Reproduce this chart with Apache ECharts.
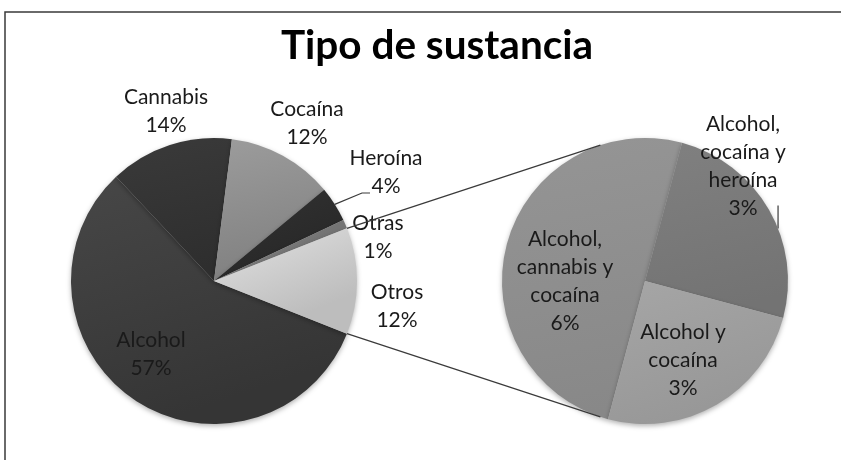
<!DOCTYPE html>
<html>
<head>
<meta charset="utf-8">
<script src="https://cdn.jsdelivr.net/npm/echarts@6/dist/echarts.min.js"></script>
<style>
  html, body { margin: 0; padding: 0; background: #ffffff; }
  #chart { width: 841px; height: 460px; }
</style>
</head>
<body>
<div id="chart"></div>
<script>
// ---- data ----
const chartTitle = 'Tipo de sustancia';

// main breakdown by substance (percent of cases)
const mainNames = ['Alcohol', 'Cannabis', 'Cocaína', 'Heroína', 'Otras'];
const mainValues = [57, 14, 12, 4, 1];

// combinations, grouped as "Otros" in the main pie and detailed in the side pie
const groupName = 'Otros';
const comboNames = ['Alcohol,\ncannabis y\ncocaína', 'Alcohol,\ncocaína y\nheroína', 'Alcohol y\ncocaína'];
const comboValues = [6, 3, 3];

// ---- styles & layout ----
const FONT = 'Lato';
const TEXT = '#1a1a1a';
const mainPie = { cx: 214, cy: 281, r: 143 };
const sidePie = { cx: 645, cy: 281, r: 143 };
const sideStartAngle = 255;

function grad(top, bottom) {
  return { type: 'linear', x: 0, y: 0, x2: 0.3, y2: 1,
    colorStops: [{ offset: 0, color: top }, { offset: 1, color: bottom }] };
}
const mainColors = [
  grad('#474747', '#353535'),   // Alcohol
  grad('#3a3a3a', '#2e2e2e'),   // Cannabis
  grad('#9c9c9c', '#808080'),   // Cocaína
  grad('#333333', '#282828'),   // Heroína
  grad('#8a8a8a', '#747474'),   // Otras
  grad('#e2e2e2', '#bdbdbd')    // Otros
];
const comboColors = [
  grad('#959595', '#888888'),
  grad('#808080', '#737373'),
  grad('#a6a6a6', '#989898')
];

// label anchors, relative to each pie's centre
const mainLabelOffsets = [[-63, 73], [-48, -170], [93, -158], [172, -109], [164, -44], [183, 25]];
const comboLabelOffsets = [[-80, 0], [98, -115], [38, 79]];

// ---- derived ----
const sum = a => a.reduce((s, v) => s + v, 0);
const groupValue = sum(comboValues);
const mainTotal = sum(mainValues) + groupValue;
// the grouped slice is centred on the 3 o'clock direction
const mainStartAngle = -(groupValue / mainTotal) * 180;

const mainData = mainNames.map((n, i) => ({
  name: n, value: mainValues[i], itemStyle: { color: mainColors[i] },
  labelLine: { show: n === 'Heroína' }
})).concat([{ name: groupName, value: groupValue, itemStyle: { color: mainColors[5] } }]);

const comboData = comboNames.map((n, i) => ({
  name: n, value: comboValues[i], itemStyle: { color: comboColors[i] },
  labelLine: { show: i === 1 }
}));

function edgePoint(p, deg) {
  const a = deg * Math.PI / 180;
  return [p.cx + p.r * Math.cos(a), p.cy - p.r * Math.sin(a)];
}

// tangent from an outside point to the side pie
function tangentPoint(pt, circle, upper) {
  const dx = pt[0] - circle.cx, dy = -(pt[1] - circle.cy);
  const d = Math.hypot(dx, dy);
  const theta = Math.atan2(dy, dx);
  const alpha = Math.acos(circle.r / d);
  const t = upper ? theta - alpha : theta + alpha;
  return [circle.cx + circle.r * Math.cos(t), circle.cy - circle.r * Math.sin(t)];
}

const halfGroupAngle = (groupValue / mainTotal) * 180;
const upperStart = edgePoint(mainPie, halfGroupAngle);
const lowerStart = edgePoint(mainPie, -halfGroupAngle);
const upperEnd = tangentPoint(upperStart, sidePie, true);
const lowerEnd = tangentPoint(lowerStart, sidePie, false);

const labelBase = {
  show: true,
  position: 'outside',
  formatter: '{b}\n{c}%',
  fontFamily: FONT,
  fontSize: 21,
  lineHeight: 28,
  color: TEXT,
  align: 'center'
};
const shadow = { shadowBlur: 5, shadowColor: 'rgba(0,0,0,0.3)', shadowOffsetY: 2 };

const chart = echarts.init(document.getElementById('chart'), null, { renderer: 'canvas' });
chart.setOption({
  backgroundColor: '#ffffff',
  animation: false,
  title: {
    text: chartTitle,
    left: 432,
    top: 20,
    textAlign: 'center',
    textStyle: { fontFamily: FONT, fontWeight: 'bold', fontSize: 40.5, color: '#000000' }
  },
  graphic: [
    { type: 'polyline', shape: { points: [[5, 460], [5, 12], [841, 12]] },
      style: { stroke: '#3a3a3a', lineWidth: 1.5, fill: null }, z: 10 },
    { type: 'line', shape: { x1: upperStart[0], y1: upperStart[1], x2: upperEnd[0], y2: upperEnd[1] },
      style: { stroke: '#3a3a3a', lineWidth: 1.2 }, z: 10 },
    { type: 'line', shape: { x1: lowerStart[0], y1: lowerStart[1], x2: lowerEnd[0], y2: lowerEnd[1] },
      style: { stroke: '#3a3a3a', lineWidth: 1.2 }, z: 10 }
  ],
  series: [
    {
      type: 'pie',
      center: [mainPie.cx, mainPie.cy],
      radius: mainPie.r,
      startAngle: mainStartAngle,
      clockwise: true,
      avoidLabelOverlap: false,
      data: mainData,
      itemStyle: Object.assign({ borderWidth: 0 }, shadow),
      label: labelBase,
      labelLine: { show: false, lineStyle: { color: '#3a3a3a', width: 1.2 } },
      labelLayout: function (params) {
        const off = mainLabelOffsets[params.dataIndex];
        const x = mainPie.cx + off[0], y = mainPie.cy + off[1];
        const out = { x: x, y: y, align: 'center', verticalAlign: 'middle' };
        if (mainNames[params.dataIndex] === 'Heroína' && params.labelLinePoints) {
          out.labelLinePoints = [params.labelLinePoints[0], [x - 24, y + 21], [x - 16, y + 21]];
        }
        return out;
      },
      emphasis: { disabled: true }
    },
    {
      type: 'pie',
      center: [sidePie.cx, sidePie.cy],
      radius: sidePie.r,
      startAngle: sideStartAngle,
      clockwise: true,
      avoidLabelOverlap: false,
      data: comboData,
      itemStyle: Object.assign({ borderWidth: 0 }, shadow),
      label: labelBase,
      labelLine: { show: false, lineStyle: { color: '#3a3a3a', width: 1.2 } },
      labelLayout: function (params) {
        const off = comboLabelOffsets[params.dataIndex];
        const x = sidePie.cx + off[0], y = sidePie.cy + off[1];
        const out = { x: x, y: y, align: 'center', verticalAlign: 'middle' };
        if (params.dataIndex === 1) {
          const e = edgePoint(sidePie, 21.5);
          out.labelLinePoints = [e, [e[0], e[1] - 12], [e[0], e[1] - 23]];
        }
        return out;
      },
      emphasis: { disabled: true }
    }
  ]
});
</script>
</body>
</html>
